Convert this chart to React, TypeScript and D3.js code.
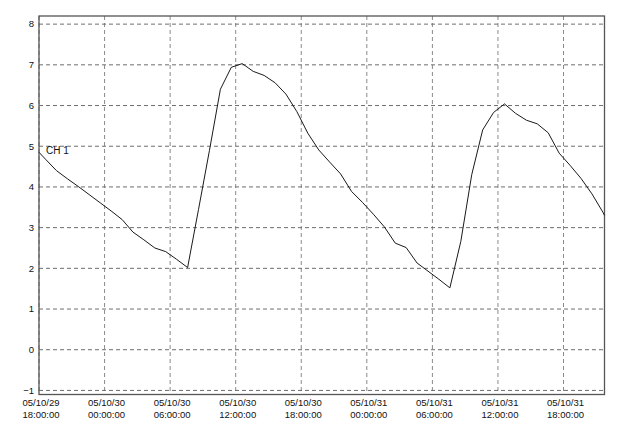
import * as d3 from "d3";

// CH 1 readings, first sample at the left edge, then one every hour from 18:36
const startTime = new Date(2005, 9, 29, 18, 0);
const firstSample = new Date(2005, 9, 29, 18, 36);
const endTime = new Date(2005, 9, 31, 21, 45);

const edgeValue = 4.85;
const ch1Values = [
  4.68, 4.4, 4.2, 4.01, 3.81, 3.61, 3.41, 3.2, 2.89, 2.7, 2.5, 2.41, 2.22, 2.02,
  3.45, 4.9, 6.4, 6.94, 7.03, 6.84, 6.74, 6.56, 6.28, 5.85, 5.32, 4.91, 4.61,
  4.32, 3.89, 3.62, 3.33, 3.02, 2.62, 2.51, 2.13, 1.93, 1.73, 1.52, 2.66, 4.3,
  5.4, 5.83, 6.04, 5.81, 5.64, 5.55, 5.33, 4.83, 4.53, 4.21, 3.83, 3.38,
];
const endValue = 3.3;

const yTicks = [-1, 0, 1, 2, 3, 4, 5, 6, 7, 8];
const seriesName = "CH 1";

const W = 624;
const H = 441;
const m = { left: 39, right: 19.5, top: 16, bottom: 46.5 };

export default function App() {
  const x = d3
    .scaleTime()
    .domain([startTime, endTime])
    .range([m.left, W - m.right]);
  const y = d3
    .scaleLinear()
    .domain([-1.1, 8.2])
    .range([H - m.bottom, m.top]);

  const points: [Date, number][] = [
    [startTime, edgeValue],
    ...ch1Values.map((v, i) => [d3.timeHour.offset(firstSample, i), v] as [Date, number]),
    [endTime, endValue],
  ];

  const line = d3
    .line<[Date, number]>()
    .x((d) => x(d[0]))
    .y((d) => y(d[1]));

  const xTicks = d3.timeHour.every(6)!.range(startTime, d3.timeMinute.offset(endTime, 1));
  const fmtDate = d3.timeFormat("%y/%m/%d");
  const fmtTime = d3.timeFormat("%H:%M:%S");

  const font = "'Liberation Sans', Arial, sans-serif";

  return (
    <svg
      width={W}
      height={H}
      style={{ position: "absolute", left: 0, top: 0, background: "#fff" }}
      fontFamily={font}
    >
      {/* vertical grid */}
      {xTicks.map((t, i) => (
        <line
          key={"vx" + i}
          x1={x(t)}
          x2={x(t)}
          y1={m.top}
          y2={H - m.bottom}
          stroke="#8a8a8a"
          strokeWidth={1}
          strokeDasharray="4,3"
        />
      ))}
      {/* horizontal grid */}
      {yTicks.map((v) => (
        <line
          key={"hy" + v}
          x1={m.left}
          x2={W - m.right}
          y1={y(v)}
          y2={y(v)}
          stroke="#6e6e6e"
          strokeWidth={1}
          strokeDasharray="4,3"
        />
      ))}

      <rect
        x={m.left}
        y={m.top}
        width={W - m.left - m.right}
        height={H - m.top - m.bottom}
        fill="none"
        stroke="#555"
        strokeWidth={1.3}
      />

      <path d={line(points) ?? ""} fill="none" stroke="#1a1a1a" strokeWidth={1} />

      <text x={46} y={154} fontSize={10} fill="#111">
        {seriesName}
      </text>

      {yTicks.map((v) => (
        <text
          key={"ty" + v}
          x={34}
          y={y(v)}
          dy="0.35em"
          textAnchor="end"
          fontSize={9.5}
          fill="#111"
        >
          {v < 0 ? "\u2212" + Math.abs(v) : v}
        </text>
      ))}

      {xTicks.map((t, i) => (
        <text key={"tx" + i} x={x(t) + 2} textAnchor="middle" fontSize={9.5} fill="#111">
          <tspan x={x(t) + 2} y={406}>
            {fmtDate(t)}
          </tspan>
          <tspan x={x(t) + 2} y={418}>
            {fmtTime(t)}
          </tspan>
        </text>
      ))}
    </svg>
  );
}
